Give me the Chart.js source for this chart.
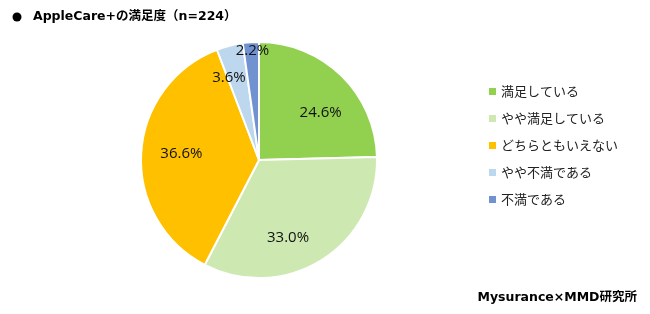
<!DOCTYPE html>
<html><head><meta charset="utf-8">
<script src="https://cdn.jsdelivr.net/npm/chart.js@4/dist/chart.umd.min.js"></script>
<style>html,body{margin:0;padding:0;background:#fff}#wrap{width:650px;height:314px;position:relative}</style>
</head><body><div id="wrap"><canvas id="c" width="650" height="314"></canvas></div>
<script>
const categories = ["満足している","やや満足している","どちらともいえない","やや不満である","不満である"];
const values = [24.6, 33.0, 36.6, 3.6, 2.2];
const colors = ["#92D050","#CDE9B1","#FFC000","#BDD7EE","#7092D0"];
const titleText = "AppleCare+の満足度（n=224）";
const sourceText = "Mysurance×MMD研究所";
const FONT = "'Noto Sans CJK JP', 'Noto Sans', sans-serif";
const LATIN = "'DejaVu Sans', 'Noto Sans CJK JP', sans-serif";
const labelRadius = [0.66, 0.70, 0.66, 0.74, 0.93];
const labelAngleShift = [0.14, 0.2, 0.02, -0.1, 0.01];

const overlay = {
  id: 'overlay',
  afterDatasetsDraw(chart) {
    const ctx = chart.ctx;
    const meta = chart.getDatasetMeta(0);
    ctx.save();
    ctx.fillStyle = '#111';
    ctx.font = "15px 'Open Sans', sans-serif";
    ctx.textAlign = 'center';
    ctx.textBaseline = 'middle';
    meta.data.forEach((arc, i) => {
      const p = arc.getProps(['x','y','startAngle','endAngle','outerRadius']);
      const a = (p.startAngle + p.endAngle) / 2 + labelAngleShift[i];
      const r = p.outerRadius * labelRadius[i];
      ctx.fillText(values[i].toFixed(1) + "%", p.x + Math.cos(a) * r, p.y + Math.sin(a) * r);
    });
    // legend
    ctx.textAlign = 'left';
    ctx.font = "13px " + FONT;
    categories.forEach((c, i) => {
      const y = 92 + i * 27;
      ctx.fillStyle = colors[i];
      ctx.fillRect(489, y - 4, 7, 7);
      ctx.fillStyle = '#222';
      ctx.fillText(c, 501, y - 1);
    });
    // title
    ctx.font = "bold 12.5px " + LATIN;
    ctx.fillStyle = '#000';
    ctx.beginPath(); ctx.arc(17, 17, 4.5, 0, Math.PI * 2); ctx.fill();
    ctx.fillText(titleText, 33, 17);
    ctx.textAlign = 'right';
    ctx.fillText(sourceText, 637, 298);
    ctx.restore();
  }
};

new Chart(document.getElementById('c'), {
  type: 'pie',
  data: { labels: categories, datasets: [{ data: values, backgroundColor: colors, borderColor: '#fff', borderWidth: 2 }] },
  options: {
    responsive: false, animation: false,
    layout: { padding: { left: 140, right: 272, top: 41, bottom: 35 } },
    plugins: { legend: { display: false }, tooltip: { enabled: false } }
  },
  plugins: [overlay]
});
</script></body></html>
